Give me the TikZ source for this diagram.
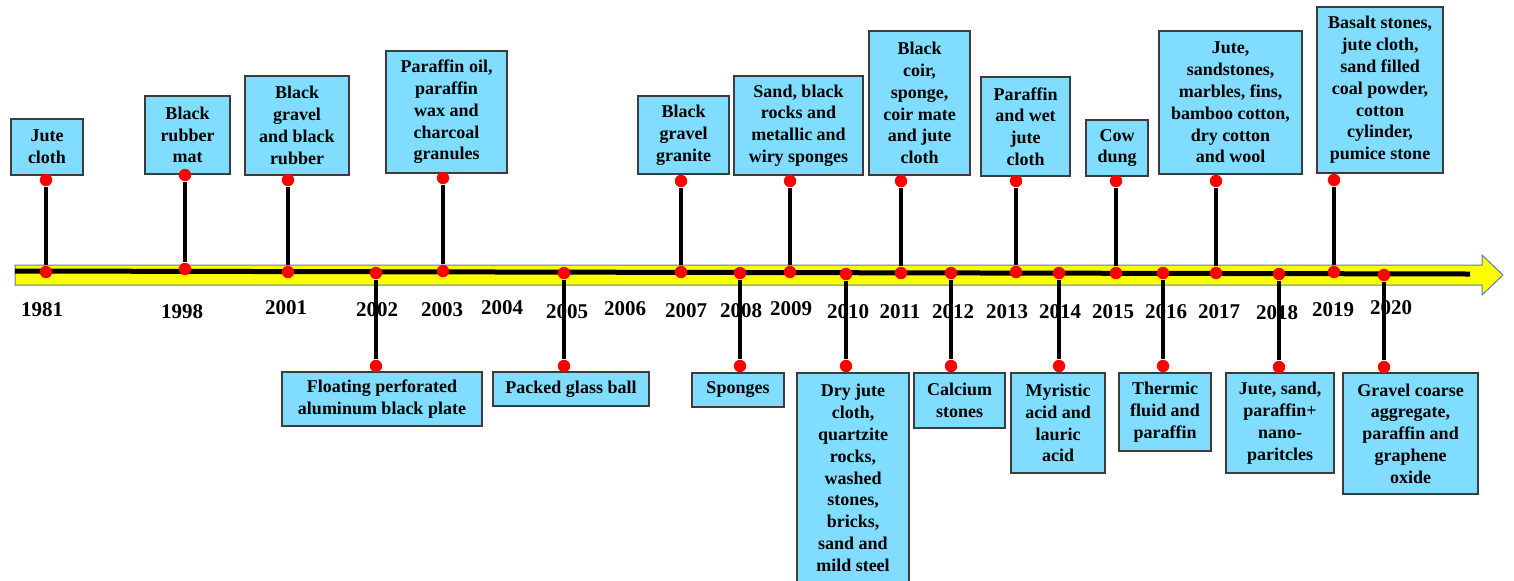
\documentclass[tikz,border=0pt]{standalone}
\usepackage{fontspec}
\setmainfont{Liberation Serif}
\definecolor{boxblue}{RGB}{128,221,255}
\definecolor{boxline}{RGB}{60,60,60}
\definecolor{baryellow}{RGB}{255,255,0}
\definecolor{barline}{RGB}{90,120,190}
\definecolor{dotred}{RGB}{255,0,0}
\begin{document}
\begin{tikzpicture}[x=0.5pt,y=-0.5pt,
  box/.style={draw=boxline,line width=0.75pt,fill=boxblue,inner sep=0pt,align=center,
    font=\bfseries\fontsize{9}{10.9}\selectfont,text=black},
  dot/.style={circle,fill=dotred,draw=none,inner sep=0pt,minimum size=6.2pt},
  stem/.style={line width=2pt,black},
  yr/.style={font=\bfseries\fontsize{10.5}{12}\selectfont,inner sep=0pt,text=black}]
\useasboundingbox (0,0) rectangle (1514,580);
\clip (0,0) rectangle (1514,580);
% timeline arrow
\draw[fill=baryellow,draw=barline,line width=0.5pt]
  (15,265) -- (1482,265) -- (1482,255) -- (1503,275) -- (1482,295) -- (1482,285) -- (15,285) -- cycle;
\coordinate (lineA) at (15,271);
\coordinate (lineB) at (1470,274);
\draw[line width=2.5pt,black] (lineA) -- (lineB);
% years
\node[yr] (y1981) at (42,310) {1981};
\node[yr] (y1998) at (182,312) {1998};
\node[yr] (y2001) at (286,308) {2001};
\node[yr] (y2002) at (377,310) {2002};
\node[yr] (y2003) at (442,310) {2003};
\node[yr] (y2004) at (502,308) {2004};
\node[yr] (y2005) at (567,312) {2005};
\node[yr] (y2006) at (625,309) {2006};
\node[yr] (y2007) at (686,311) {2007};
\node[yr] (y2008) at (741,311) {2008};
\node[yr] (y2009) at (791,309) {2009};
\node[yr] (y2010) at (848,312) {2010};
\node[yr] (y2011) at (900,312) {2011};
\node[yr] (y2012) at (953,312) {2012};
\node[yr] (y2013) at (1007,312) {2013};
\node[yr] (y2014) at (1060,312) {2014};
\node[yr] (y2015) at (1113,312) {2015};
\node[yr] (y2016) at (1166,312) {2016};
\node[yr] (y2017) at (1219,312) {2017};
\node[yr] (y2018) at (1277,313) {2018};
\node[yr] (y2019) at (1333,310) {2019};
\node[yr] (y2020) at (1391,308) {2020};
% top boxes
\node[box,minimum width=36pt,minimum height=28pt] (b1981) at (47,147) {Jute\\cloth};
\node[box,minimum width=42.5pt,minimum height=39pt] (b1998) at (187.5,135) {Black\\rubber\\mat};
\node[box,minimum width=52pt,minimum height=49.5pt] (b2001) at (297,125.5) {Black\\gravel\\and black\\rubber};
\node[box,minimum width=60.5pt,minimum height=61pt] (b2003) at (446.5,112) {Paraffin oil,\\paraffin\\wax and\\charcoal\\granules};
\node[box,minimum width=45.5pt,minimum height=39pt] (b2007) at (683.5,135) {Black\\gravel\\granite};
\node[box,minimum width=64.5pt,minimum height=49.5pt] (b2009) at (798.5,125.5) {Sand, black\\rocks and\\metallic and\\wiry sponges};
\node[box,minimum width=50.5pt,minimum height=72pt] (b2011) at (919.5,103) {Black\\coir,\\sponge,\\coir mate\\and jute\\cloth};
\node[box,minimum width=44.5pt,minimum height=49.5pt] (b2013) at (1025.5,126.5) {Paraffin\\and wet\\jute\\cloth};
\node[box,minimum width=31pt,minimum height=28pt] (b2015) at (1117,148) {Cow\\dung};
\node[box,minimum width=71.5pt,minimum height=71.5pt] (b2017) at (1230.5,102.5) {Jute,\\sandstones,\\marbles, fins,\\bamboo cotton,\\dry cotton\\and wool};
\node[box,minimum width=63pt,minimum height=83pt] (b2019) at (1380,90) {Basalt stones,\\jute cloth,\\sand filled\\coal powder,\\cotton\\cylinder,\\pumice stone};
% bottom boxes
\node[box,minimum width=100pt,minimum height=27pt] (b2002) at (382,399) {Floating perforated\\aluminum black plate};
\node[box,minimum width=78pt,minimum height=17pt] (b2005) at (571,389) {Packed glass ball};
\node[box,minimum width=46pt,minimum height=17pt] (b2008) at (738,390) {Sponges};
\node[box,minimum width=56pt,minimum height=105pt] (b2010) at (853,478) {Dry jute\\cloth,\\quartzite\\rocks,\\washed\\stones,\\bricks,\\sand and\\mild steel};
\node[box,minimum width=45.5pt,minimum height=27.5pt] (b2012) at (959.5,400.5) {Calcium\\stones};
\node[box,minimum width=47pt,minimum height=50pt] (b2014) at (1058,423) {Myristic\\acid and\\lauric\\acid};
\node[box,minimum width=46pt,minimum height=39pt] (b2016) at (1165,412) {Thermic\\fluid and\\paraffin};
\node[box,minimum width=54pt,minimum height=50pt] (b2018) at (1280,423) {Jute, sand,\\paraffin+\\nano-\\paritcles};
\node[box,minimum width=67.5pt,minimum height=60.5pt] (b2020) at (1410.5,433.5) {Gravel coarse\\aggregate,\\paraffin and\\graphene\\oxide};
% dots: top events
\foreach \n/\x/\ty/\ly in {1981/46/180/272, 1998/185/175/269, 2001/288/180/272, 2003/443/178/271,
  2007/681/181/272, 2009/790/181/272, 2011/901/181/273, 2013/1016/181/272, 2015/1116/181/273,
  2017/1216/181/273, 2019/1334/180/272}{
  \node[dot] (t\n) at (\x,\ty) {};
  \node[dot] (l\n) at (\x,\ly) {};
  \draw[stem] (l\n.north) -- (t\n.south);
}
% dots: bottom events
\foreach \n/\x/\ty/\ly in {2002/376/366/273, 2005/564/366/273, 2008/740/366/273, 2010/846/366/274,
  2012/951/366/273, 2014/1059/366/273, 2016/1163/366/273, 2018/1279/367/274, 2020/1384/367/275}{
  \node[dot] (t\n) at (\x,\ty) {};
  \node[dot] (l\n) at (\x,\ly) {};
  \draw[stem] (l\n.south) -- (t\n.north);
}
\end{tikzpicture}
\end{document}
